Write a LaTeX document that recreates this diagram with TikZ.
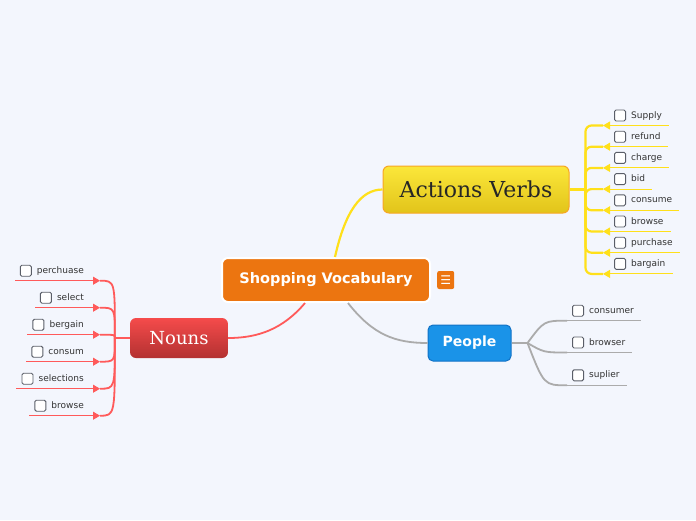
\documentclass[tikz,border=0pt]{standalone}
\usepackage{fontspec}
\setmainfont{DejaVu Sans}
\newfontfamily\slabfont{DejaVu Serif}
\usetikzlibrary{arrows.meta, positioning, calc}
\definecolor{pagebg}{HTML}{F3F6FD}
\definecolor{rootorange}{HTML}{EC7510}
\definecolor{verbyellow}{HTML}{FBE73A}
\definecolor{verbgold}{HTML}{E2C41A}
\definecolor{verbedge}{HTML}{F7A623}
\definecolor{verbline}{HTML}{FFE01A}
\definecolor{nounred}{HTML}{F54B4B}
\definecolor{nouncrimson}{HTML}{B33131}
\definecolor{nounline}{HTML}{FF5A5A}
\definecolor{peopleblue}{HTML}{1A93E8}
\definecolor{peopleedge}{HTML}{1172C6}
\definecolor{peopleline}{HTML}{ABABAB}
\definecolor{leaftext}{HTML}{333333}
\definecolor{boxedge}{HTML}{5A5E68}

\begin{document}
\begin{tikzpicture}[
    x=1pt, y=-1pt,
    every node/.style={font=\fontsize{9}{10}\selectfont},
    topic/.style={rounded corners=6pt, align=center, inner sep=0pt},
    cbox/.style={draw=boxedge, fill=white, rounded corners=1.5pt, minimum size=11pt, inner sep=0pt, line width=0.9pt},
    leaf/.style={text=leaftext, inner sep=0pt, text height=7pt, text depth=2pt, label={[cbox, xshift=-5pt]left:{}}},
    vleaf/.style={leaf, anchor=west},
    nleaf/.style={leaf, anchor=east},
    pleaf/.style={leaf, anchor=west},
    tip/.style={{Triangle[length=7pt, width=8pt]}-},
    vlink/.style={draw=verbline, line width=2.2pt, rounded corners=6pt},
    vunder/.style={draw=verbline, line width=1pt, tip},
    nlink/.style={draw=nounline, line width=1.8pt},
    nunder/.style={draw=nounline, line width=1pt, tip},
    plink/.style={draw=peopleline, line width=1.8pt},
    punder/.style={draw=peopleline, line width=1pt}
  ]
  \fill[pagebg] (0,0) rectangle (696,520);
  \useasboundingbox (0,0) rectangle (696,520);

  % main topics
  \node[topic, fill=rootorange, draw=white, line width=2pt, minimum width=208pt, minimum height=44pt,
        text=white, font=\fontsize{14.5}{16}\selectfont\bfseries] (root) at (326,280) {Shopping Vocabulary};
  \node[fill=rootorange, rounded corners=2pt, minimum width=17pt, minimum height=18pt, inner sep=0pt,
        text=white, font=\fontsize{12}{12}\selectfont, right=6pt of root] (menu) {☰};
  \node[topic, top color=verbyellow, bottom color=verbgold, draw=verbedge, line width=1pt,
        minimum width=186pt, minimum height=47pt, text=black!85,
        font=\slabfont\fontsize{22}{24}\selectfont] (av) at (476,189.5) {Actions Verbs};
  \node[topic, top color=nounred, bottom color=nouncrimson, minimum width=98pt, minimum height=40pt,
        text=white, font=\slabfont\fontsize{18}{20}\selectfont] (nouns) at (179,338) {Nouns};
  \node[topic, fill=peopleblue, draw=peopleedge, line width=1pt, rounded corners=5pt,
        minimum width=83pt, minimum height=36pt, text=white,
        font=\fontsize{14}{16}\selectfont\bfseries] (people) at (469.5,343) {People};

  \draw[vlink] ($(root.north)+(9,0)$) .. controls +(10,-45) and +(-22,0) .. (av.west);
  \draw[nlink] ($(root.south)+(-21,0)$) .. controls +(-22,26) and +(30,0) .. (nouns.east);
  \draw[plink] ($(root.south)+(22,0)$) .. controls +(25,32) and +(-32,0) .. (people.west);

  % action verbs
  \coordinate (vb) at ($(av.east)+(16,0)$);
  \draw[vlink] (av.east) -- (vb);
  \node[vleaf] (v1) at (631,115.5) {Supply};
  \node[vleaf] (v2) at (631,136.7) {refund};
  \node[vleaf] (v3) at (631,157.9) {charge};
  \node[vleaf] (v4) at (631,179.1) {bid};
  \node[vleaf] (v5) at (631,200.3) {consume};
  \node[vleaf] (v6) at (631,221.5) {browse};
  \node[vleaf] (v7) at (631,242.7) {purchase};
  \node[vleaf] (v8) at (631,263.9) {bargain};
  \draw[vlink] (vb) |- ($(v1.west)+(-28,10)$) edge[vunder] ($(v1.east)+(7,10)$);
  \draw[vlink] (vb) |- ($(v2.west)+(-28,10)$) edge[vunder] ($(v2.east)+(7,10)$);
  \draw[vlink] (vb) |- ($(v3.west)+(-28,10)$) edge[vunder] ($(v3.east)+(7,10)$);
  \draw[vlink] (vb) |- ($(v4.west)+(-28,10)$) edge[vunder] ($(v4.east)+(7,10)$);
  \draw[vlink] (vb) |- ($(v5.west)+(-28,10)$) edge[vunder] ($(v5.east)+(7,10)$);
  \draw[vlink] (vb) |- ($(v6.west)+(-28,10)$) edge[vunder] ($(v6.east)+(7,10)$);
  \draw[vlink] (vb) |- ($(v7.west)+(-28,10)$) edge[vunder] ($(v7.east)+(7,10)$);
  \draw[vlink] (vb) |- ($(v8.west)+(-28,10)$) edge[vunder] ($(v8.east)+(7,10)$);

  % nouns
  \coordinate (nb) at ($(nouns.west)+(-15,0)$);
  \draw[nlink] (nouns.west) -- (nb);
  \node[nleaf] (n1) at (84,270.7) {perchuase};
  \node[nleaf] (n2) at (84,297.7) {select};
  \node[nleaf] (n3) at (84,324.7) {bergain};
  \node[nleaf] (n4) at (84,351.7) {consum};
  \node[nleaf] (n5) at (84,378.7) {selections};
  \node[nleaf] (n6) at (84,405.7) {browse};
  \draw[nlink] (nb) .. controls ($(n1.east)+(31,10)$) .. ($(n1.east)+(16,10)$) edge[nunder] ($(n1.west)+(-22,10)$);
  \draw[nlink] (nb) .. controls ($(n2.east)+(31,10)$) .. ($(n2.east)+(16,10)$) edge[nunder] ($(n2.west)+(-22,10)$);
  \draw[nlink] (nb) .. controls ($(n3.east)+(31,10)$) .. ($(n3.east)+(16,10)$) edge[nunder] ($(n3.west)+(-22,10)$);
  \draw[nlink] (nb) .. controls ($(n4.east)+(31,10)$) .. ($(n4.east)+(16,10)$) edge[nunder] ($(n4.west)+(-22,10)$);
  \draw[nlink] (nb) .. controls ($(n5.east)+(31,10)$) .. ($(n5.east)+(16,10)$) edge[nunder] ($(n5.west)+(-22,10)$);
  \draw[nlink] (nb) .. controls ($(n6.east)+(31,10)$) .. ($(n6.east)+(16,10)$) edge[nunder] ($(n6.west)+(-22,10)$);

  % people
  \coordinate (pb) at ($(people.east)+(16,0)$);
  \draw[plink] (people.east) -- (pb);
  \node[pleaf] (p1) at (589,310.7) {consumer};
  \node[pleaf] (p2) at (589,342.5) {browser};
  \node[pleaf] (p3) at (589,375.3) {suplier};
  \draw[plink] (pb) .. controls ($(p1.west)+(-45,10)$) .. ($(p1.west)+(-22,10)$) edge[punder] ($(p1.east)+(7,10)$);
  \draw[plink] (pb) .. controls ($(p2.west)+(-45,10)$) .. ($(p2.west)+(-22,10)$) edge[punder] ($(p2.east)+(7,10)$);
  \draw[plink] (pb) .. controls ($(p3.west)+(-45,10)$) .. ($(p3.west)+(-22,10)$) edge[punder] ($(p3.east)+(7,10)$);
\end{tikzpicture}
\end{document}
